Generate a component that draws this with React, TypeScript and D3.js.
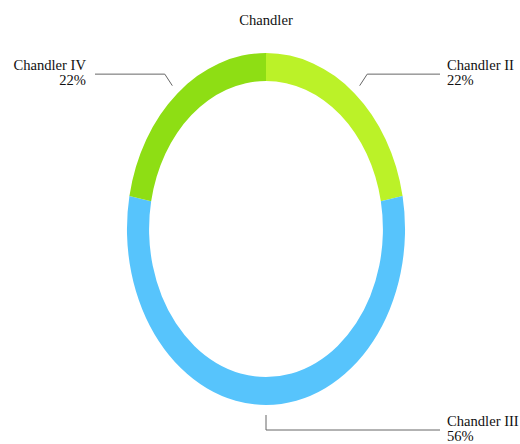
import React from "react";
import * as d3 from "d3";

const title = "Chandler";
const categories = ["Chandler II", "Chandler III", "Chandler IV"];
const values = [22, 56, 22];
const colors = ["#bbf228", "#57c4fc", "#8ede14"];

export default function App() {
  const W = 520, H = 444;
  const cx = 266, cy = 229;
  const sx = 0.79;
  const outerR = 176, innerR = 148;
  const pie = d3.pie<number>().sort(null).value((d) => d);
  const arcs = pie(values);
  const arc = d3.arc<d3.PieArcDatum<number>>().innerRadius(innerR).outerRadius(outerR);
  const total = d3.sum(values);
  const toScreen = (r: number, a: number): [number, number] => [
    cx + sx * r * Math.sin(a),
    cy - r * Math.cos(a),
  ];
  return (
    <svg width={W} height={H} style={{ position: "absolute", left: 0, top: 0, background: "#fff" }}
      fontFamily="'Liberation Serif', 'Times New Roman', serif" fontSize={14.6}>
      <text x={266} y={25} textAnchor="middle" fill="#111">{title}</text>
      <g transform={`translate(${cx},${cy}) scale(${sx},1)`}>
        {arcs.map((a, i) => (
          <path key={i} d={arc(a) || ""} fill={colors[i]} />
        ))}
      </g>
      {arcs.map((a, i) => {
        const mid = (a.startAngle + a.endAngle) / 2;
        const p1 = toScreen(186, mid);
        const p2 = toScreen(201, mid);
        const right = Math.sin(mid) >= -1e-6;
        const endX = right ? 440 : 95;
        const textX = right ? 447 : 86;
        const pct = Math.round((values[i] / total) * 100) + "%";
        const pts: [number, number][] = [p1, p2, [endX, p2[1]]];
        return (
          <g key={"l" + i}>
            <path d={d3.line()(pts) || ""} fill="none" stroke="#666" strokeWidth={1} />
            <text x={textX} y={p2[1] - 4} textAnchor={right ? "start" : "end"} fill="#111">
              {categories[i]}
            </text>
            <text x={textX} y={p2[1] + 11} textAnchor={right ? "start" : "end"} fill="#111">
              {pct}
            </text>
          </g>
        );
      })}
    </svg>
  );
}
